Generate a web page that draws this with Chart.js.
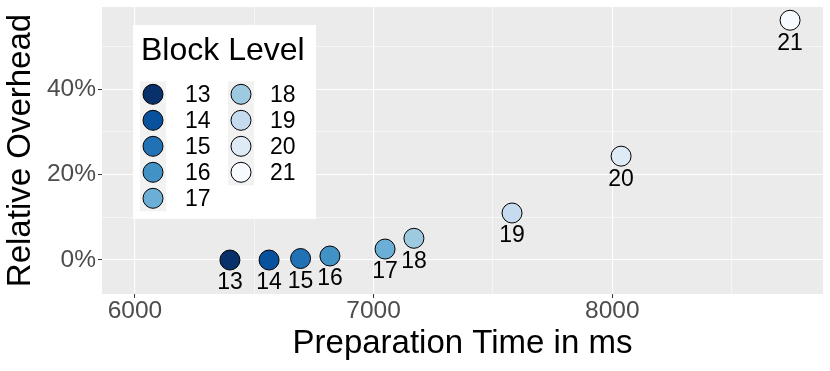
<!DOCTYPE html>
<html>
<head>
<meta charset="utf-8">
<script src="https://cdn.jsdelivr.net/npm/chart.js@4.4.1/dist/chart.umd.min.js"></script>
<style>
  html, body { margin: 0; padding: 0; background: #fff; }
  #wrap { width: 830px; height: 371px; }
</style>
</head>
<body>
<div id="wrap"><canvas id="overheadChart" width="830" height="371"></canvas></div>
<script>
'use strict';

/* ── DATA ─────────────────────────────────────────────────── */
const blockLevels    = ['13', '14', '15', '16', '17', '18', '19', '20', '21'];
const prepTimeMs     = [6398, 6562, 6694, 6817, 7048, 7169, 7580, 8037, 8745];
const relOverheadPct = [0, 0, 0.35, 0.94, 2.57, 5.08, 11.0, 24.3, 56.1];
const levelColors    = ['#08306B', '#08519C', '#2171B5', '#4292C6', '#6BAED6',
                        '#9ECAE1', '#C6DBEF', '#DEEBF7', '#F7FBFF'];

const xGrid       = [6000, 6500, 7000, 7500, 8000, 8500];
const xTickLabels = ['6000', '', '7000', '', '8000', ''];
const yGrid       = [0, 10, 20, 30, 40, 50];
const yTickLabels = ['0%', '', '20%', '', '40%', ''];

/* ── STYLE ────────────────────────────────────────────────── */
const FONT = "'Liberation Sans', Arial, Helvetica, sans-serif";
const PANEL_BG = '#EBEBEB';
const POINT_R = 10.5;

const isMajorX = v => xTickLabels[xGrid.indexOf(v)] !== '';
const isMajorY = v => yTickLabels[yGrid.indexOf(v)] !== '';

// ggplot-ish grey panel
const panelBg = {
  id: 'panelBg',
  beforeDraw(chart) {
    const { ctx, chartArea: a } = chart;
    ctx.save();
    ctx.fillStyle = '#FFFFFF';
    ctx.fillRect(0, 0, chart.width, chart.height);
    ctx.fillStyle = PANEL_BG;
    ctx.fillRect(a.left, a.top, a.right - a.left, a.bottom - a.top);
    ctx.restore();
  }
};

// text labels under each point
const pointLabels = {
  id: 'pointLabels',
  afterDatasetsDraw(chart) {
    const { ctx } = chart;
    const meta = chart.getDatasetMeta(0);
    ctx.save();
    ctx.fillStyle = '#000';
    ctx.font = `23px ${FONT}`;
    ctx.textAlign = 'center';
    ctx.textBaseline = 'middle';
    meta.data.forEach((pt, i) => {
      ctx.fillText(blockLevels[i], pt.x, pt.y + 23);
    });
    ctx.restore();
  }
};

// two-column legend, drawn inside the panel
const blockLegend = {
  id: 'blockLegend',
  afterDraw(chart) {
    const { ctx } = chart;
    const perCol = 5, rowH = 26, y0 = 94.3;
    const colCircleX = [153, 241];
    const colTextX   = [185, 270];

    ctx.save();
    ctx.fillStyle = '#FFFFFF';
    ctx.fillRect(133, 25, 183, 194);

    ctx.fillStyle = '#000';
    ctx.font = `32px ${FONT}`;
    ctx.textAlign = 'left';
    ctx.textBaseline = 'alphabetic';
    ctx.fillText('Block Level', 141, 60);

    // key backgrounds
    ctx.fillStyle = '#F2F2F2';
    for (let c = 0; c < 2; c++) {
      const n = Math.min(perCol, blockLevels.length - c * perCol);
      ctx.fillRect(colCircleX[c] - 13, y0 - 13, 26, n * rowH);
    }

    ctx.font = `23px ${FONT}`;
    ctx.textBaseline = 'middle';
    blockLevels.forEach((lvl, i) => {
      const c = Math.floor(i / perCol), r = i % perCol;
      const cy = y0 + r * rowH;
      ctx.beginPath();
      ctx.arc(colCircleX[c], cy, POINT_R - 0.5, 0, Math.PI * 2);
      ctx.fillStyle = levelColors[i];
      ctx.fill();
      ctx.lineWidth = 1;
      ctx.strokeStyle = '#000';
      ctx.stroke();
      ctx.fillStyle = '#000';
      ctx.fillText(lvl, colTextX[c], cy + 1);
    });
    ctx.restore();
  }
};

new Chart(document.getElementById('overheadChart'), {
  type: 'scatter',
  data: {
    datasets: [{
      label: 'Block Level',
      data: prepTimeMs.map((x, i) => ({ x, y: relOverheadPct[i] })),
      backgroundColor: levelColors,
      borderColor: '#000',
      borderWidth: 1,
      pointRadius: POINT_R - 0.5,
      pointHoverRadius: POINT_R - 0.5,
    }]
  },
  options: {
    responsive: false,
    animation: false,
    devicePixelRatio: 1,
    layout: { autoPadding: false, padding: { top: 7, right: 7, left: 0, bottom: 0 } },
    plugins: {
      legend:  { display: false },
      tooltip: { enabled: false },
    },
    scales: {
      x: {
        type: 'linear',
        min: 5862,
        max: 8883,
        afterBuildTicks: s => { s.ticks = xGrid.map(v => ({ value: v })); },
        afterFit: s => { s.height = 77; s.paddingLeft = 0; s.paddingRight = 0; },
        border: { display: false },
        grid: {
          color: '#FFFFFF',
          lineWidth: c => (c.tick && isMajorX(c.tick.value) ? 1.1 : 0.55),
          tickColor: c => (c.tick && isMajorX(c.tick.value) ? '#333333' : 'rgba(0,0,0,0)'),
          tickWidth: 1,
          tickLength: 4,
        },
        ticks: {
          autoSkip: false,
          maxRotation: 0,
          padding: 1,
          color: '#4D4D4D',
          font: { size: 24.5, family: FONT, lineHeight: 1 },
          callback: v => xTickLabels[xGrid.indexOf(v)] ?? '',
        },
        title: {
          display: true,
          text: 'Preparation Time in ms',
          color: '#000',
          font: { size: 33, family: FONT },
          padding: { top: 0, bottom: 7.6 },
        },
      },
      y: {
        type: 'linear',
        min: -7.95,
        max: 59.2,
        afterBuildTicks: s => { s.ticks = yGrid.map(v => ({ value: v })); },
        afterFit: s => { s.width = 102; s.paddingTop = 0; s.paddingBottom = 0; },
        border: { display: false },
        grid: {
          color: '#FFFFFF',
          lineWidth: c => (c.tick && isMajorY(c.tick.value) ? 1.1 : 0.55),
          tickColor: c => (c.tick && isMajorY(c.tick.value) ? '#333333' : 'rgba(0,0,0,0)'),
          tickWidth: 1,
          tickLength: 4,
        },
        ticks: {
          autoSkip: false,
          padding: 2,
          color: '#4D4D4D',
          font: { size: 24.5, family: FONT },
          callback: v => yTickLabels[yGrid.indexOf(v)] ?? '',
        },
        title: {
          display: true,
          text: 'Relative Overhead',
          color: '#000',
          font: { size: 33, family: FONT },
          padding: { top: 1, bottom: 0 },
        },
      },
    },
  },
  plugins: [panelBg, pointLabels, blockLegend],
});
</script>
</body>
</html>
